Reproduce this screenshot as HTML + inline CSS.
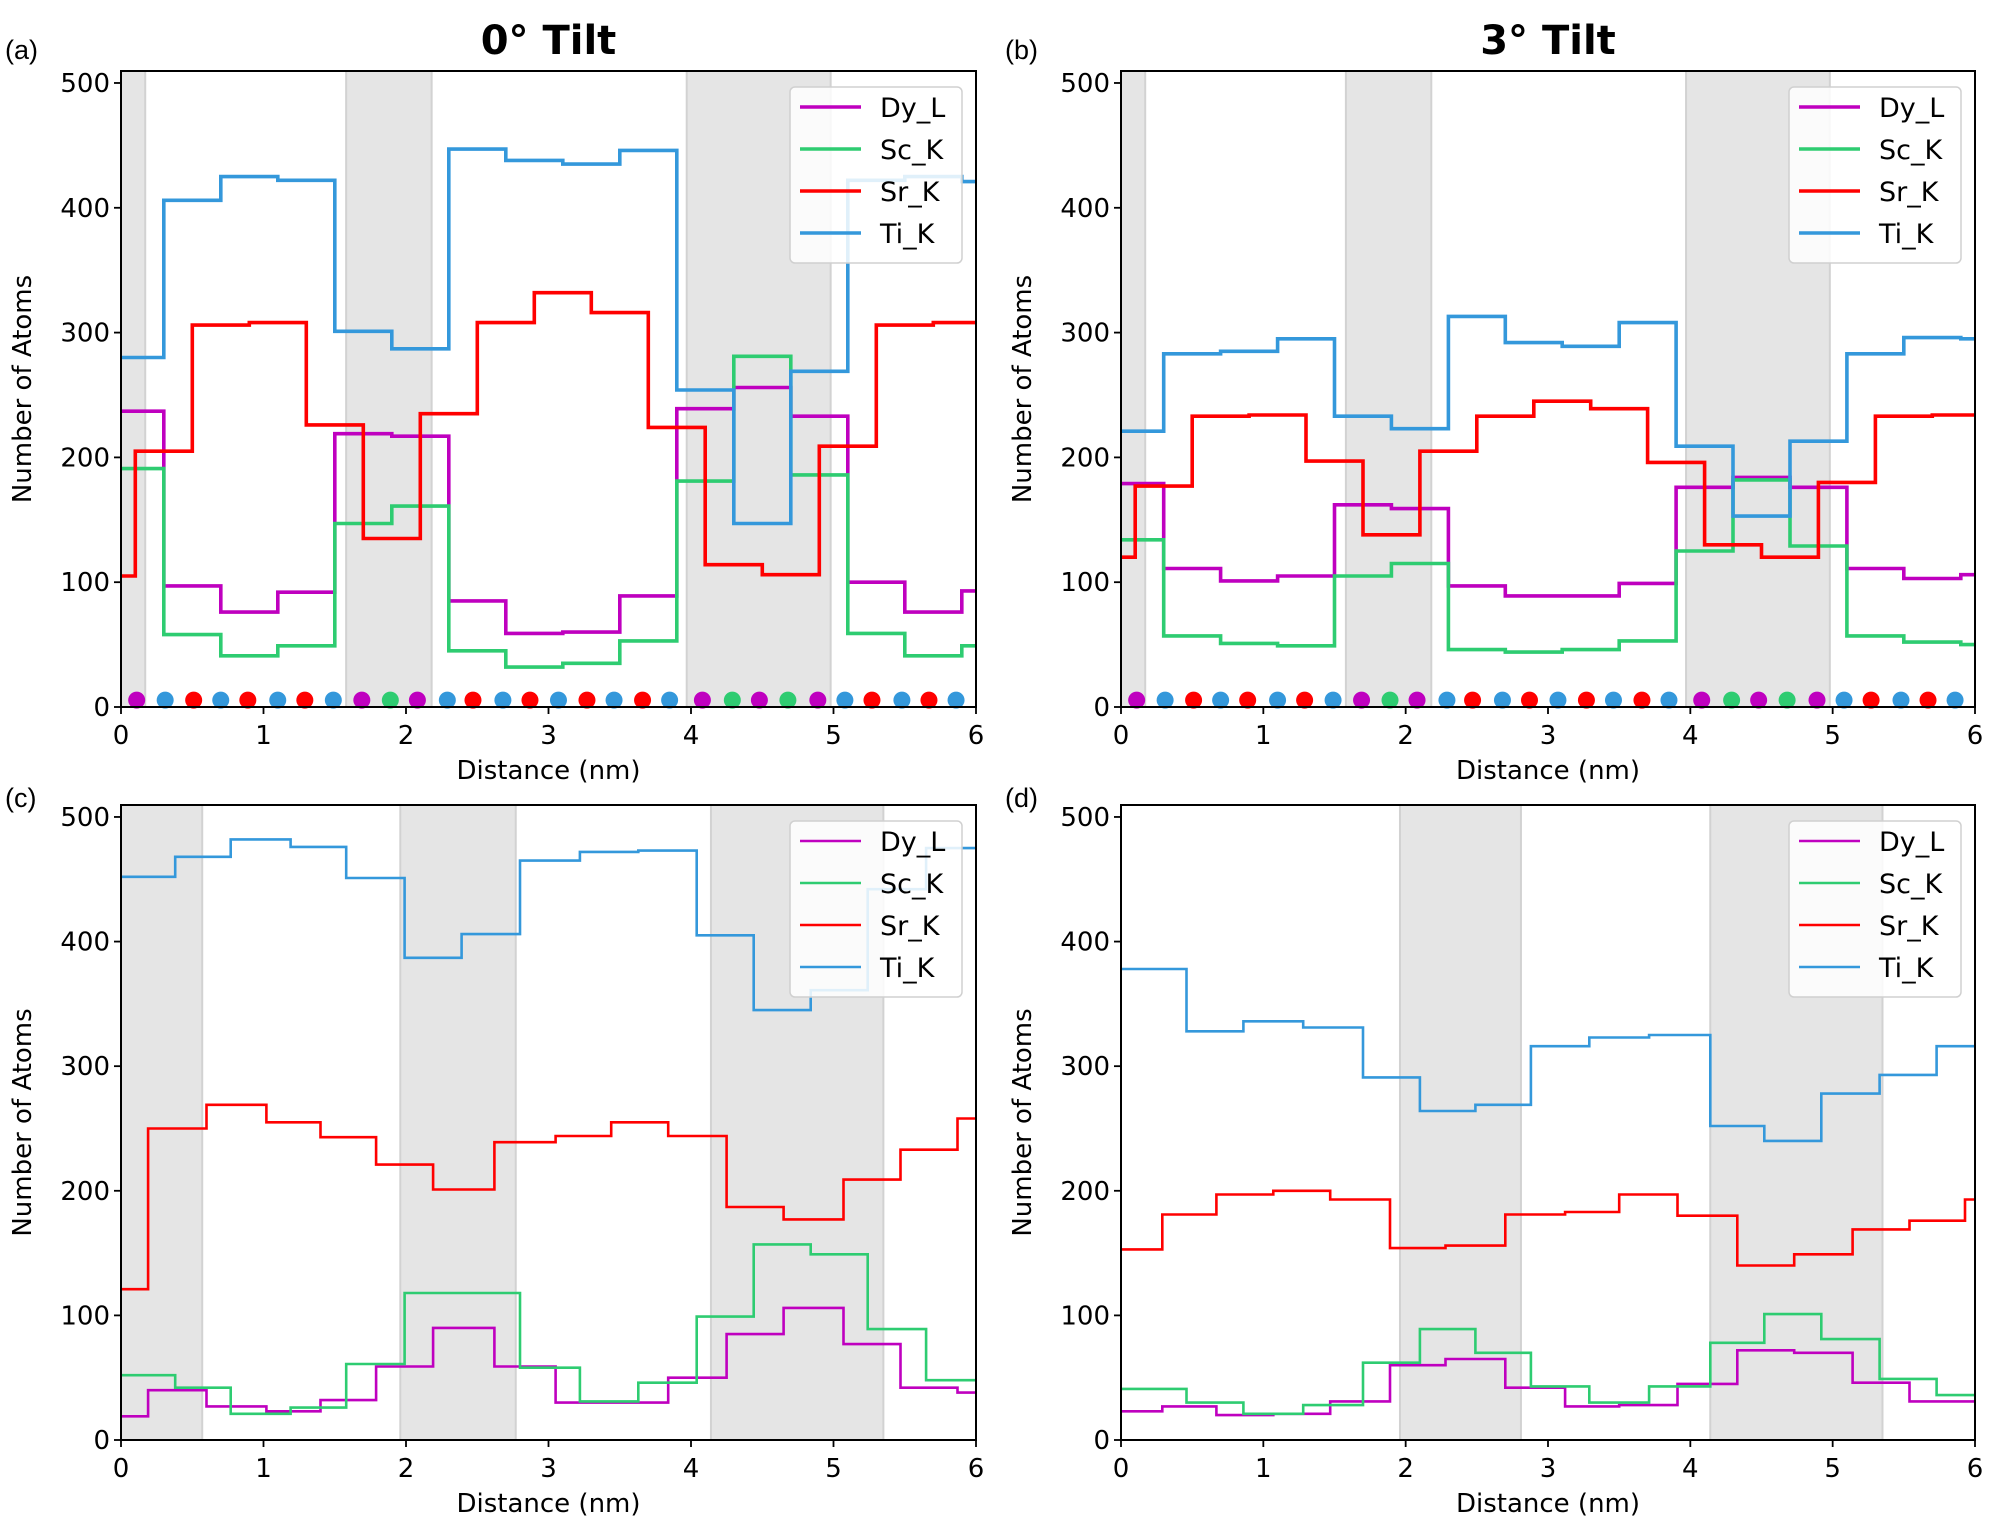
<!DOCTYPE html>
<html><head><meta charset="utf-8"><style>
html,body{margin:0;padding:0;background:#fff;}
svg{display:block;font-family:"DejaVu Sans","Liberation Sans",sans-serif;}
</style></head><body>
<svg id="fig" width="2000" height="1519" viewBox="0 0 2000 1519" xmlns="http://www.w3.org/2000/svg"></svg>
<script>
// ---------- data ----------
const seriesNames = ["Dy_L","Sc_K","Sr_K","Ti_K"];
const seriesColors = ["#bf00bf","#2ecc71","#ff0000","#3498db"];
const xTicks = [0,1,2,3,4,5,6];
const yTicks = [0,100,200,300,400,500];

// panel a / b bin edges (nm)
const edgesAB_main = [0,0.3,0.7,1.1,1.5,1.9,2.3,2.7,3.1,3.5,3.9,4.3,4.7,5.1,5.5,5.9,6];
const edgesAB_sr   = [0,0.1,0.5,0.9,1.3,1.7,2.1,2.5,2.9,3.3,3.7,4.1,4.5,4.9,5.3,5.7,6];
// panel a
const a_Dy = [237,97,76,92,219,217,85,59,60,89,239,256,233,100,76,93];
const a_Sc = [191,58,41,49,147,161,45,32,35,53,181,281,186,59,41,49];
const a_Sr = [105,205,306,308,226,135,235,308,332,316,224,114,106,209,306,308];
const a_Ti = [280,406,425,422,301,287,447,438,435,446,254,147,269,422,425,421];
// panel b
const b_Dy = [179,111,101,105,162,159,97,89,89,99,176,184,176,111,103,106];
const b_Sc = [134,57,51,49,105,115,46,44,46,53,125,182,129,57,52,50];
const b_Sr = [120,177,233,234,197,138,205,233,245,239,196,130,120,180,233,234];
const b_Ti = [221,283,285,295,233,223,313,292,289,308,209,153,213,283,296,295];
// panel c
const edgesC_main = [0,0.38,0.77,1.19,1.58,1.99,2.39,2.80,3.22,3.63,4.04,4.44,4.84,5.24,5.65,6];
const edgesC_sr   = [0,0.19,0.60,1.02,1.40,1.79,2.19,2.62,3.05,3.44,3.84,4.25,4.65,5.07,5.47,5.87,6];
const c_Dy = [19,40,27,23,32,59,90,59,30,30,50,85,106,77,42,38];
const c_Sc = [52,42,21,26,61,118,118,58,31,46,99,157,149,89,48];
const c_Sr = [121,250,269,255,243,221,201,239,244,255,244,187,177,209,233,258];
const c_Ti = [452,468,482,476,451,387,406,465,472,473,405,345,361,442,475];
// panel d
const edgesD_main = [0,0.46,0.86,1.28,1.70,2.10,2.49,2.88,3.29,3.71,4.14,4.52,4.92,5.33,5.73,6];
const edgesD_sr   = [0,0.29,0.67,1.07,1.47,1.89,2.28,2.70,3.12,3.50,3.91,4.33,4.73,5.14,5.54,5.93,6];
const d_Dy = [23,27,20,21,31,60,65,42,27,28,45,72,70,46,31,31];
const d_Sc = [41,30,21,28,62,89,70,43,30,43,78,101,81,49,36];
const d_Sr = [153,181,197,200,193,154,156,181,183,197,180,140,149,169,176,193];
const d_Ti = [378,328,336,331,291,264,269,316,323,325,252,240,278,293,316];

// shaded interface regions (nm)
const shadeAB = [[0,0.17],[1.58,2.18],[3.97,4.98]];
const shadeC = [[0,0.57],[1.96,2.77],[4.14,5.35]];
const shadeD = [[1.96,2.81],[4.14,5.35]];

// atom column markers (panels a,b)
const atomX = [0.11,0.31,0.51,0.70,0.89,1.10,1.29,1.49,1.69,1.89,2.08,2.29,2.47,2.68,2.87,3.07,3.27,3.46,3.66,3.85,4.08,4.29,4.48,4.68,4.89,5.08,5.27,5.48,5.67,5.86];
const atomType = [0,3,2,3,2,3,2,3,0,1,0,3,2,3,2,3,2,3,2,3,0,1,0,1,0,3,2,3,2,3];

const panels = [
 {id:"a",left:121,right:976,top:71,y0:707,title:"0° Tilt",lw:3.6,shade:shadeAB,atoms:true,
  edges:[edgesAB_main,edgesAB_main,edgesAB_sr,edgesAB_main],vals:[a_Dy,a_Sc,a_Sr,a_Ti]},
 {id:"b",left:1121,right:1975,top:71,y0:707,title:"3° Tilt",lw:3.6,shade:shadeAB,atoms:true,
  edges:[edgesAB_main,edgesAB_main,edgesAB_sr,edgesAB_main],vals:[b_Dy,b_Sc,b_Sr,b_Ti]},
 {id:"c",left:121,right:976,top:805,y0:1440,title:null,lw:2.6,shade:shadeC,atoms:false,
  edges:[edgesC_sr,edgesC_main,edgesC_sr,edgesC_main],vals:[c_Dy,c_Sc,c_Sr,c_Ti]},
 {id:"d",left:1121,right:1975,top:805,y0:1440,title:null,lw:2.6,shade:shadeD,atoms:false,
  edges:[edgesD_sr,edgesD_main,edgesD_sr,edgesD_main],vals:[d_Dy,d_Sc,d_Sr,d_Ti]}
];

const NS="http://www.w3.org/2000/svg";
const svg=document.getElementById("fig");
function mk(tag,attrs,parent,text){const e=document.createElementNS(NS,tag);for(const k in attrs)e.setAttribute(k,attrs[k]);if(text!==undefined)e.textContent=text;(parent||svg).appendChild(e);return e;}

const defs=mk("defs",{});
panels.forEach(p=>{
  const xs=v=>p.left+(v/6)*(p.right-p.left);
  const ys=v=>p.y0-v*(p.y0-p.top)/509.6;
  const g=mk("g",{});
  
  
  const cp=mk("clipPath",{id:"clip"+p.id},defs);
  mk("rect",{x:p.left,y:p.top,width:p.right-p.left,height:p.y0-p.top},cp);

  // shading
  p.shade.forEach((s,i)=>{
    const r=mk("rect",{x:xs(s[0]),y:p.top,width:xs(s[1])-xs(s[0]),height:p.y0-p.top,fill:"#e5e5e5",stroke:"#d2d2d2","stroke-width":2},g);
    
    
  });
  // series
  const lg=mk("g",{"clip-path":"url(#clip"+p.id+")"},g);
  p.vals.forEach((vals,si)=>{
    const ed=p.edges[si];
    let d="";
    vals.forEach((v,i)=>{
      const x1=xs(ed[i]),x2=xs(ed[i+1]),y=ys(v);
      d+=(i===0?"M":"L")+x1.toFixed(1)+","+y.toFixed(1)+"L"+x2.toFixed(1)+","+y.toFixed(1);
    });
    const path=mk("path",{d:d,fill:"none",stroke:seriesColors[si],"stroke-width":p.lw,"stroke-linejoin":"miter"},lg);
    
    
  });
  // atoms
  if(p.atoms){
    atomX.forEach((ax,i)=>{
      const c=mk("circle",{cx:xs(ax),cy:ys(5.5),r:8.5,fill:seriesColors[atomType[i]]},g);
      
      
    });
  }
  // frame
  const fr=mk("rect",{x:p.left,y:p.top,width:p.right-p.left,height:p.y0-p.top,fill:"none",stroke:"#000","stroke-width":2},g);
  
  
  // ticks
  xTicks.forEach(t=>{
    mk("line",{x1:xs(t),x2:xs(t),y1:p.y0,y2:p.y0+7,stroke:"#000","stroke-width":1.8},g);
    const tx=mk("text",{x:xs(t),y:p.y0+37,"font-size":26,"text-anchor":"middle",fill:"#000"},g,String(t));
    
    
  });
  yTicks.forEach(t=>{
    mk("line",{x1:p.left-7,x2:p.left,y1:ys(t),y2:ys(t),stroke:"#000","stroke-width":1.8},g);
    const ty=mk("text",{x:p.left-11,y:ys(t)+9,"font-size":26,"text-anchor":"end",fill:"#000"},g,String(t));
    
    
  });
  const xl=mk("text",{x:(p.left+p.right)/2,y:p.y0+72,"font-size":26,"text-anchor":"middle",fill:"#000"},g,"Distance (nm)");
  
  
  const ycx=p.left-90, ycy=(p.top+p.y0)/2;
  const yl=mk("text",{x:ycx,y:ycy,"font-size":26,"text-anchor":"middle",fill:"#000",transform:"rotate(-90 "+ycx+" "+ycy+")"},g,"Number of Atoms");
  
  
  const pl=mk("text",{x:p.left-116,y:p.top-12+(p.title?0:14),"font-size":27,fill:"#000","font-family":"Liberation Sans, sans-serif"},g,"("+p.id+")");
  
  
  if(p.title){
    const ti=mk("text",{x:(p.left+p.right)/2,y:p.top-17,"font-size":40,"font-weight":"bold","text-anchor":"middle",fill:"#000"},g,p.title);
    
    
  }
  // legend
  const lgd=mk("g",{},g);
  
  
  mk("rect",{x:p.right-186,y:p.top+16,width:172,height:176,rx:5,fill:"#fff","fill-opacity":0.85,stroke:"#d0d0d0","stroke-width":1.5},lgd);
  seriesNames.forEach((n,i)=>{
    const yy=p.top+36+i*42;
    const e=mk("g",{},lgd);
    
    
    mk("line",{x1:p.right-176,x2:p.right-115,y1:yy,y2:yy,stroke:seriesColors[i],"stroke-width":p.lw},e);
    mk("text",{x:p.right-96,y:yy+10,"font-size":27,fill:"#000"},e,n);
  });
});
</script>
</body></html>
